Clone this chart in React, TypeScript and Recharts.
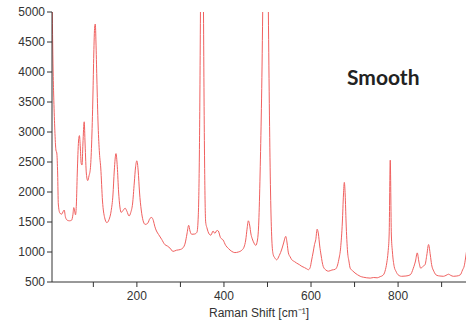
import React from 'react'
import { LineChart, Line, XAxis, YAxis, Label } from 'recharts'

// Raman shift (cm-1) and intensity
const shiftValues = [
  5, 7.6, 9.2, 11.5, 14, 16, 18, 19.5, 23, 27, 31, 33, 36, 40, 45, 50, 53, 55, 57, 59,
  61, 63, 66, 68, 70, 72, 74, 76, 79, 81, 84, 87, 90, 93, 96, 99, 101, 103, 104.5, 106,
  108, 111, 114, 117, 121, 126, 131, 136, 141, 145, 148, 152, 155, 158, 161, 164, 168, 173, 177, 182,
  186, 190, 194, 197, 200, 203, 206, 210, 214, 219, 225, 230, 234, 238, 241, 245, 250, 257, 264, 270,
  276, 283, 291, 299, 306, 311, 315, 319, 322, 326, 333, 338, 341, 343.5, 346, 349.5, 353, 355.5, 358, 361,
  366, 370, 375, 379, 384, 387, 392, 398, 404, 410, 418, 425, 433, 441, 446, 450, 453, 456, 459, 462,
  465, 469, 473, 477, 480, 483, 489, 495.5, 502, 507, 510, 513, 517, 521, 527, 533, 537, 542, 545, 548,
  552, 556, 562, 567, 573, 579, 585, 590, 594, 598, 601, 605, 608, 611, 614, 617, 620, 623, 628, 634,
  640, 648, 655, 660, 664, 668, 672, 674.5, 676.5, 678.5, 680.5, 684, 687, 690, 695, 701, 707, 713, 720, 728,
  736, 744, 752, 759, 765, 770, 774, 777, 779.5, 782, 784.5, 787, 791, 795, 800, 808, 818, 828, 835, 840,
  844, 848, 852, 857, 862, 866, 870, 874, 877, 882, 889, 896, 904, 910, 916, 921, 927, 935, 943, 948,
  952, 955, 957,
]

const intensityValues = [
  5400, 4000, 3530, 3030, 2700, 2650, 2300, 1800, 1650, 1630, 1680, 1700, 1580, 1530, 1520, 1530, 1620, 1740, 1680, 1620,
  1800, 2300, 2850, 2940, 2750, 2480, 2450, 2800, 3170, 2800, 2300, 2190, 2270, 2380, 2800, 3600, 4300, 4750, 4800, 4500,
  3900, 3100, 2650, 2400, 1850, 1570, 1490, 1540, 1690, 1950, 2350, 2640, 2420, 2000, 1750, 1660, 1690, 1730, 1680, 1600,
  1660, 1800, 2150, 2420, 2520, 2350, 2000, 1700, 1530, 1460, 1480, 1560, 1575, 1520, 1430, 1350, 1290, 1210, 1125, 1100,
  1065, 1010, 1030, 1040, 1070, 1150, 1300, 1445, 1350, 1295, 1300, 1330, 1600, 2600, 5000, 10500, 5000, 2500, 1500, 1400,
  1300, 1280, 1350, 1310, 1360, 1350, 1240, 1200, 1110, 1060, 1010, 990, 1000, 1030, 1080, 1200, 1380, 1520, 1450, 1300,
  1220, 1150, 1110, 1200, 1500, 2300, 5000, 11000, 5000, 2000, 1200, 960, 900, 870, 940, 1050, 1150, 1260, 1150, 985,
  920, 870, 840, 815, 790, 760, 740, 720, 705, 740, 850, 1000, 1125, 1210, 1380, 1300, 1100, 950, 760, 700,
  680, 700, 710, 760, 880, 1070, 1500, 1950, 2160, 1950, 1500, 1000, 850, 730, 690, 650, 620, 595, 580, 570,
  565, 575, 570, 590, 610, 680, 820, 1000, 1300, 2530, 1300, 1000, 760, 680, 620, 595, 600, 620, 730, 850,
  985, 830, 730, 760, 790, 950, 1125, 950, 790, 680, 610, 600, 595, 610, 630, 610, 595, 600, 620, 700,
  770, 900, 1000,
]

const xTicks = [100, 200, 300, 400, 500, 600, 700, 800, 900]
const yTicks = [500, 1000, 1500, 2000, 2500, 3000, 3500, 4000, 4500, 5000]

const data = shiftValues.map((shift, i) => ({ shift, intensity: intensityValues[i] }))

const tickStyle = { fontSize: 12, fill: '#333', fontFamily: 'Liberation Sans, Arial, sans-serif' }

export default function App() {
  return (
    <div style={{ position: 'absolute', left: 0, top: 0, width: 476, height: 327, background: '#fff' }}>
      <LineChart width={476} height={327} data={data} margin={{ top: 12, right: 10, left: 0, bottom: 0 }}>
        <XAxis
          dataKey="shift"
          type="number"
          domain={[5, 956]}
          ticks={xTicks}
          allowDataOverflow
          tickFormatter={(v: number) => (v % 200 === 0 ? String(v) : '')}
          tick={tickStyle}
          tickSize={5}
          tickMargin={4}
          stroke="#333"
          height={45}
        >
          <Label
            value="Raman Shift [cm⁻¹]"
            position="insideBottom"
            offset={10}
            style={{ fontSize: 12, fill: '#333', fontFamily: 'Liberation Sans, Arial, sans-serif' }}
          />
        </XAxis>
        <YAxis
          type="number"
          domain={[500, 5000]}
          ticks={yTicks}
          allowDataOverflow
          tick={tickStyle}
          tickSize={5}
          stroke="#333"
          width={52}
        />
        <Line
          type="monotone"
          dataKey="intensity"
          stroke="#f0605f"
          strokeWidth={1}
          dot={false}
          isAnimationActive={false}
        />
      </LineChart>
      <div
        style={{
          position: 'absolute', left: 347, top: 64,
          fontFamily: 'Lato, sans-serif', fontWeight: 700, fontSize: 21, color: '#222',
        }}
      >
        Smooth
      </div>
    </div>
  )
}
